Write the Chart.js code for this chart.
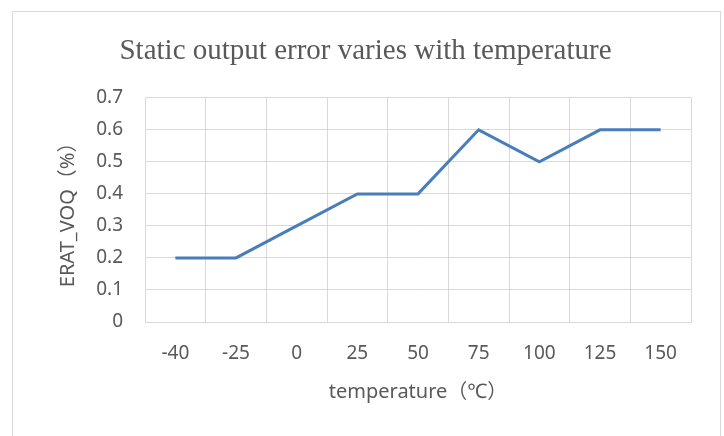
<!DOCTYPE html>
<html>
<head>
<meta charset="utf-8">
<script src="https://cdn.jsdelivr.net/npm/chart.js@4"></script>
<style>
  html, body { margin: 0; padding: 0; background: #fff; }
  #wrap { position: relative; width: 724px; height: 436px; }
  #frame { position: absolute; left: 12px; top: 11px; width: 707px; height: 430px; border: 1px solid #d9d9d9; }
  #chartErr { position: absolute; left: 0; top: 0; }
</style>
</head>
<body>
<div id="wrap">
  <div id="frame"></div>
  <canvas id="chartErr" width="724" height="436"></canvas>
</div>
<script>
// data
const suhu = ['-40', '-25', '0', '25', '50', '75', '100', '125', '150'];
const errorVoq = [0.2, 0.2, 0.3, 0.4, 0.4, 0.6, 0.5, 0.6, 0.6];
const yMin = 0, yMax = 0.7, yStep = 0.1;

const fontTick = "'Noto Sans', sans-serif";
const abu = '#d9d9d9';

const ctx = document.getElementById('chartErr');
new Chart(ctx, {
    type: 'line',
    data: {
        labels: suhu,
        datasets: [{
            label: 'ERAT_VOQ',
            data: errorVoq,
            borderColor: '#4a7ebb',
            borderWidth: 3,
            pointRadius: 0,
            fill: false,
            tension: 0
        }]
    },
    options: {
        responsive: false,
        animation: false,
        layout: { padding: { left: 40, right: 33, top: 0, bottom: 0 } },
        plugins: {
            legend: { display: false },
            tooltip: { enabled: false },
            title: {
                display: true,
                text: 'Static output error varies with temperature',
                color: '#595959',
                font: { family: "'Liberation Serif', 'Times New Roman', serif", size: 29, weight: 'normal' },
                padding: { top: 34, bottom: 29 }
            }
        },
        scales: {
            x: {
                offset: true,
                grid: { color: abu, offset: true, drawTicks: false },
                border: { color: abu },
                ticks: { color: '#595959', font: { family: fontTick, size: 19 }, padding: 20, maxRotation: 0 },
                title: {
                    display: true,
                    text: 'temperature（℃）',
                    color: '#595959',
                    font: { family: "'Noto Sans', 'Noto Sans CJK SC', sans-serif", size: 20 },
                    padding: { top: 0, bottom: 32 }
                },
                afterFit: function(scale) { scale.height = 114; }
            },
            y: {
                min: yMin,
                max: yMax,
                grid: { color: abu, drawTicks: false },
                border: { color: abu },
                ticks: { stepSize: yStep, color: '#595959', font: { family: fontTick, size: 19 }, padding: 22 },
                title: {
                    display: true,
                    text: 'ERAT_VOQ（%）',
                    color: '#595959',
                    font: { family: "'Noto Sans', 'Noto Sans CJK SC', sans-serif", size: 20 },
                    padding: { top: 16, bottom: 0 }
                },
                afterFit: function(scale) { scale.width = 105; }
            }
        }
    }
});
</script>
</body>
</html>
